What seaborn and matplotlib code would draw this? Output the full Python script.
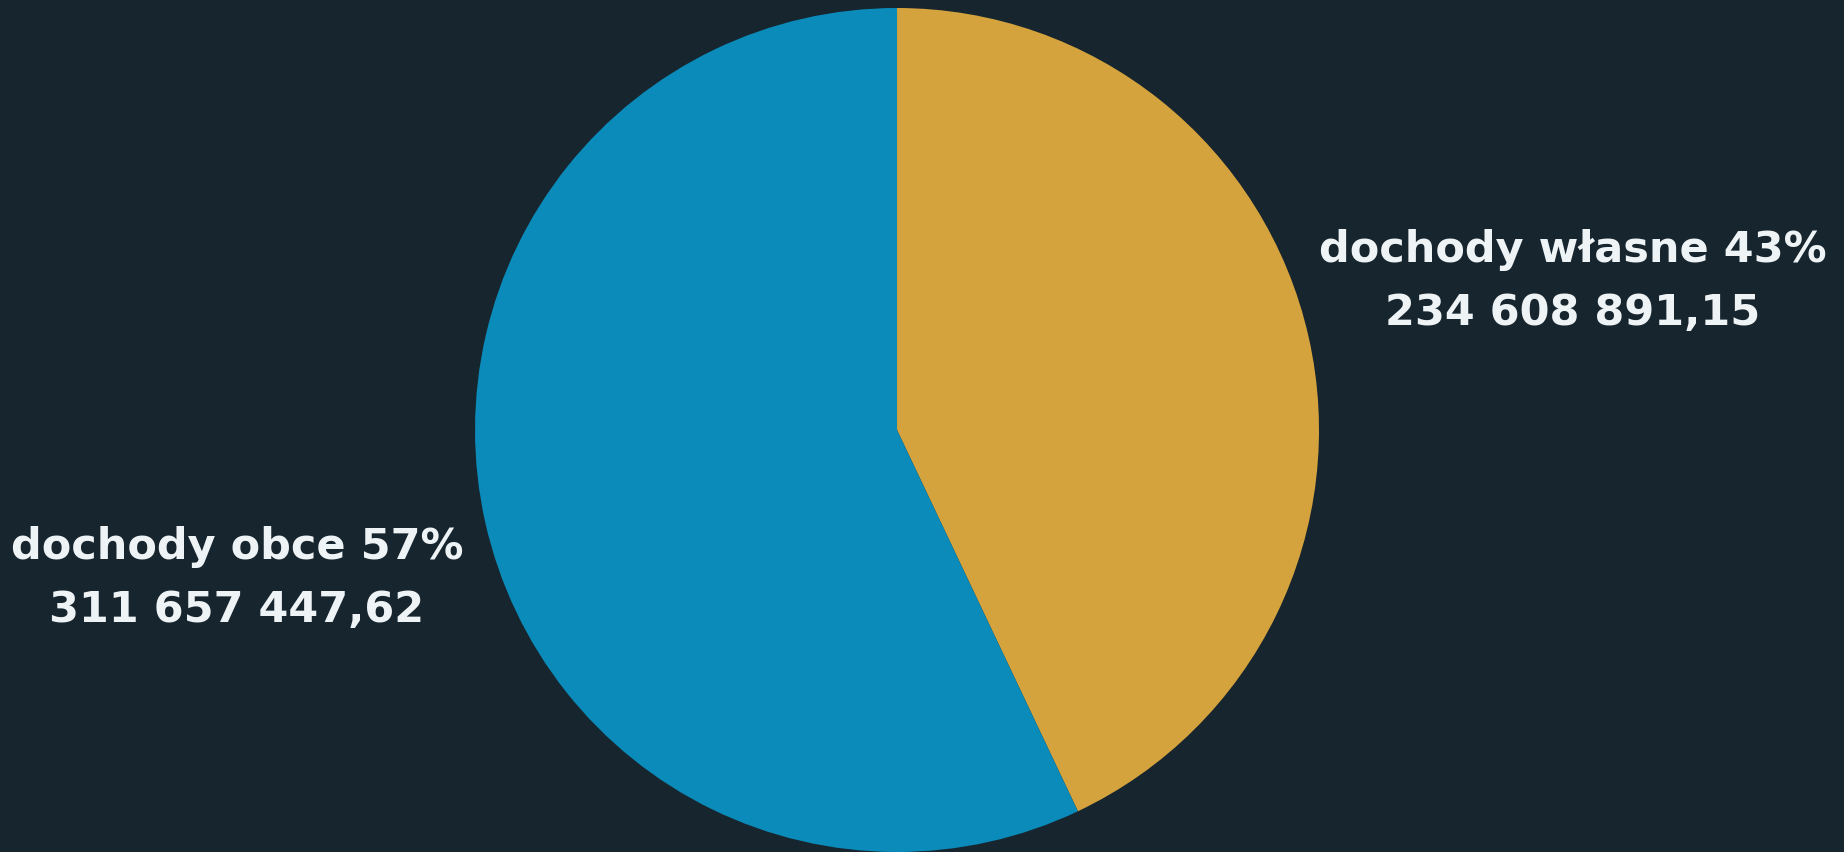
import matplotlib
matplotlib.use("Agg")
import matplotlib.pyplot as plt
import seaborn as sns

# revenue split (PLN)
labels = ["dochody własne", "dochody obce"]
values = [234608891.15, 311657447.62]
amount_labels = ["234 608 891,15", "311 657 447,62"]
colors = ["#d4a33d", "#0a8bb9"]
bg = "#17252f"

sns.set_theme(style="dark")
plt.rcParams['font.family'] = ['DejaVu Sans']

fig = plt.figure(figsize=(18.44, 8.52), dpi=100, facecolor=bg)
ax = fig.add_axes([0.2576, 0.0, 844 / 1844, 844 / 852])
ax.set_facecolor(bg)

ax.pie(values, colors=colors, startangle=90, counterclock=False, radius=1,
       wedgeprops=dict(linewidth=0))
ax.set_xlim(-1, 1)
ax.set_ylim(-1, 1)
ax.set_aspect("equal")
ax.axis("off")

total = sum(values)
pcts = [round(v / total * 100) for v in values]

txt = dict(color="#eef3f5", fontsize=31, fontweight="bold", ha="center", va="center")
# right label (own revenue)
fig.text(0.853, 0.7066, f"{labels[0]} {pcts[0]}%", **txt)
fig.text(0.853, 0.6326, amount_labels[0], **txt)
# left label (external revenue)
fig.text(0.1285, 0.358, f"{labels[1]} {pcts[1]}%", **txt)
fig.text(0.1285, 0.284, amount_labels[1], **txt)

fig.savefig("out.png", dpi=100, facecolor=bg)
